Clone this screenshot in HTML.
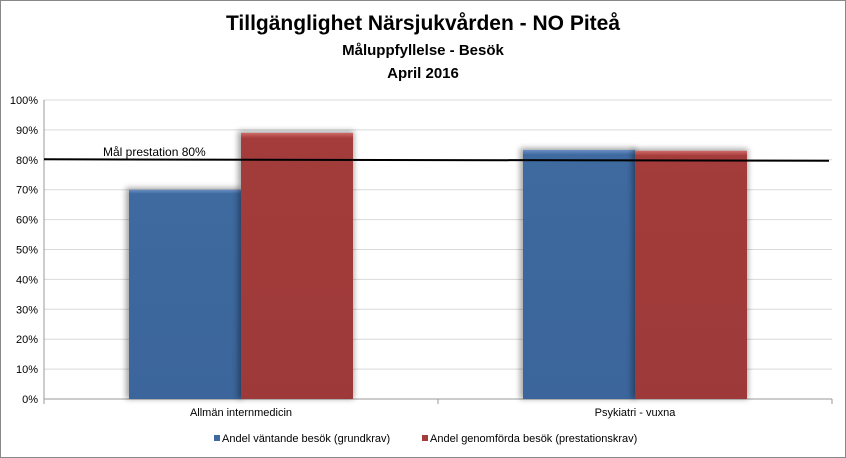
<!DOCTYPE html>
<html><head><meta charset="utf-8"><style>
body{margin:0;background:#fff;}
#c{position:relative;width:846px;height:458px;overflow:hidden;}
</style></head><body>
<div id="c">
<svg id="s" width="846" height="458" xmlns="http://www.w3.org/2000/svg" font-family="Liberation Sans, sans-serif">
<defs>
<linearGradient id="gb" x1="0" x2="0" y1="0" y2="1"><stop offset="0" stop-color="#6a8fc4"/><stop offset="0.02" stop-color="#3e6aa0"/><stop offset="1" stop-color="#3b659b"/></linearGradient>
<linearGradient id="gr" x1="0" x2="0" y1="0" y2="1"><stop offset="0" stop-color="#d06a68"/><stop offset="0.02" stop-color="#a33c3b"/><stop offset="1" stop-color="#9d3a39"/></linearGradient>
<filter id="sh" x="-10%" y="-5%" width="130%" height="110%"><feGaussianBlur stdDeviation="3"/></filter>
</defs>
<rect x="0.5" y="0.5" width="845" height="457" fill="#fff" stroke="#888"/>
<text x="423" y="30" text-anchor="middle" font-size="21" font-weight="bold">Tillgänglighet Närsjukvården - NO Piteå</text>
<text x="423" y="55" text-anchor="middle" font-size="15" font-weight="bold">Måluppfyllelse - Besök</text>
<text x="423" y="78" text-anchor="middle" font-size="15" font-weight="bold">April 2016</text>
<g id="grid"></g><g id="bars"></g><g id="axes"></g>
</svg>
</div>
<script>
const categories=["Allmän internmedicin","Psykiatri - vuxna"];
const seriesNames=["Andel väntande besök (grundkrav)","Andel genomförda besök (prestationskrav)"];
const waiting=[70,83.3];
const completed=[89,83];
const ticks=[0,10,20,30,40,50,60,70,80,90,100];
const goal=80;
const goalLabel="Mål prestation  80%";
const NS="http://www.w3.org/2000/svg";
const L=44,R=832,T=100,B=399;
const y=v=>B-(B-T)*v/100;
const bandW=(R-L)/categories.length;
function mk(t,a,p){const e=document.createElementNS(NS,t);for(const k in a)e.setAttribute(k,a[k]);(p||document.getElementById('s')).appendChild(e);return e;}
const grid=document.getElementById('grid'),bars=document.getElementById('bars'),axes=document.getElementById('axes');
ticks.forEach(t=>{
 const g=mk('line',{x1:L,x2:R,y1:y(t),y2:y(t),stroke:t===0?'#999':'#d9d9d9','stroke-width':1},grid);
 
 
 const lb=mk('text',{x:L-6,y:y(t)+4,'text-anchor':'end','font-size':11,fill:'#000'},axes);
 lb.textContent=t+'%';
 
 
});
mk('line',{x1:L,x2:L,y1:T,y2:B,stroke:'#999'},axes);
for(let i=0;i<=categories.length;i++){mk('line',{x1:L+i*bandW,x2:L+i*bandW,y1:B,y2:B+5,stroke:'#999'},axes);}
const bw=112;
categories.forEach((c,i)=>{
 const cx=L+bandW*(i+0.5);
 [[waiting[i],'url(#gb)',cx-bw,'bar-waiting-'+i],[completed[i],'url(#gr)',cx,'bar-completed-'+i]].forEach(([v,f,x,n])=>{
  mk('rect',{x:x-3,y:y(v)-2,width:bw+4,height:B-y(v)+2,fill:'#000',opacity:0.35,filter:'url(#sh)'},bars);
  const r=mk('rect',{x:x,y:y(v),width:bw,height:B-y(v),fill:f},bars);
  
  
 });
 const t=mk('text',{x:cx,y:B+17,'text-anchor':'middle','font-size':11},axes);
 t.textContent=c;
 
 
});
const gl=mk('line',{x1:L,x2:R-3,y1:y(goal)-0.5,y2:y(goal)+1,stroke:'#000','stroke-width':2},axes);


const gt=mk('text',{x:103,y:y(goal)-4,'font-size':12},axes);
gt.textContent=goalLabel;


const lx=[214,422];
seriesNames.forEach((n,i)=>{
 const r=mk('rect',{x:lx[i],y:435,width:6,height:6,fill:i?'#a33c3b':'#3e6aa0'},axes);
 
 
 const t=mk('text',{x:lx[i]+8,y:442,'font-size':11},axes);
 t.textContent=n;
 
 
});
</script>
</body></html>
